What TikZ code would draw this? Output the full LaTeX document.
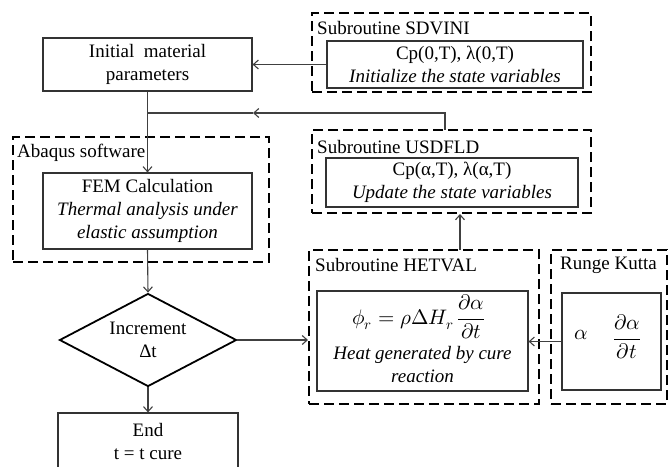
\documentclass[tikz,border=0pt]{standalone}
\usepackage{fontspec}
\usepackage{unicode-math}
\setmainfont{Liberation Serif}
\setmathfont{Latin Modern Math}
\usetikzlibrary{shapes.geometric,arrows.meta}

\tikzset{
  bloc/.style={draw=black!80, line width=1.2pt, align=center, inner sep=0pt},
  cadre/.style={draw, line width=2pt, dash pattern=on 10pt off 5pt},
  titre/.style={anchor=west, inner sep=0pt},
  losange/.style={diamond, draw, line width=1.8pt, aspect=1.9, inner sep=0pt,
    minimum width=177pt, minimum height=93pt, align=center},
  fleche/.style={draw=black!75, line width=1.1pt, -{Straight Barb[length=5pt,width=9pt]}},
  ligne/.style={draw=black!75, line width=1.1pt},
  formule/.style={inner sep=0pt, font=\fontsize{21}{25}\selectfont},
}

\begin{document}
\begin{tikzpicture}[x=1pt,y=-1pt,font=\fontsize{19}{23}\selectfont]
\clip (0,0) rectangle (669,466);
%\draw[help lines,step=50pt] (0,0) grid (669,466);

% colonne de gauche
\node[bloc, minimum width=209pt, minimum height=53pt] (init) at (147.5,64.5) {Initial~ material\\parameters};
\node[cadre, minimum width=256pt, minimum height=125pt] (abaqus) at (141,199.5) {};
\node[titre] (abaqus_t) at (17,153) {Abaqus software};
\node[bloc, minimum width=209pt, minimum height=76pt] (fem) at (147.5,211) {FEM Calculation\\\textit{Thermal analysis under}\\\textit{elastic assumption}};
\node[losange] (incr) at (148,340) {Increment\\Δt};
\node[bloc, minimum width=180pt, minimum height=56pt] (fin) at (148,441) {End\\t = t cure};

% sous-routines
\node[cadre, minimum width=279pt, minimum height=79pt] (sdvini) at (451.5,52.5) {};
\node[titre] (sdvini_t) at (317,28) {Subroutine SDVINI};
\node[bloc, minimum width=256pt, minimum height=47pt] (sdvini_in) at (455,64.5) {Cp(0,T), λ(0,T)\\\textit{Initialize the state variables}};

\node[cadre, minimum width=279pt, minimum height=83pt] (usdfld) at (451.5,171.5) {};
\node[titre] (usdfld_t) at (317,147) {Subroutine USDFLD};
\node[bloc, minimum width=252pt, minimum height=49pt] (usdfld_in) at (452,182.5) {Cp(α,T), λ(α,T)\\\textit{Update the state variables}};

\node[cadre, minimum width=230pt, minimum height=154pt] (hetval) at (424,327) {};
\node[titre] (hetval_t) at (315,265) {Subroutine HETVAL};
\node[bloc, minimum width=211pt, minimum height=100pt] (hetval_in) at (422.5,341) {};
\node[formule] (phi) at (419,317) {$\displaystyle \phi_r=\rho\Delta H_r\,\frac{\partial\alpha}{\partial t}$};
\node[align=center, inner sep=0pt] (chaleur) at (422.5,364) {\textit{Heat generated by cure}\\\textit{reaction}};

\node[cadre, minimum width=116pt, minimum height=154pt] (rk) at (609,327) {};
\node[titre] (rk_t) at (560,265) {Runge Kutta};
\node[bloc, minimum width=99pt, minimum height=97pt] (rk_in) at (611.5,341.5) {};
\node[formule] (rk_a) at (581,335) {$\alpha$};
\node[formule] (rk_d) at (627,337) {$\displaystyle\frac{\partial\alpha}{\partial t}$};

% liaisons
\coordinate (retour) at (253,113);
\coordinate (u_haut) at (445,130);
\coordinate (h_haut) at (460,250);
\draw[fleche] (sdvini_in.west) -- (init.east);
\draw[fleche] (u_haut) |- (retour);
\draw[ligne] (retour) -- (init.south |- retour);
\draw[fleche] (init.south) -- (fem.north);
\draw[fleche] (fem.south) -- (incr.north);
\draw[fleche] (incr.south) -- (fin.north);
\draw[fleche] (incr.east) -- (incr.east -| hetval.west);
\draw[fleche] (h_haut) -- (h_haut |- usdfld.south);
\draw[fleche] (rk_in.west) -- (rk_in.west -| hetval_in.east);
\end{tikzpicture}
\end{document}
